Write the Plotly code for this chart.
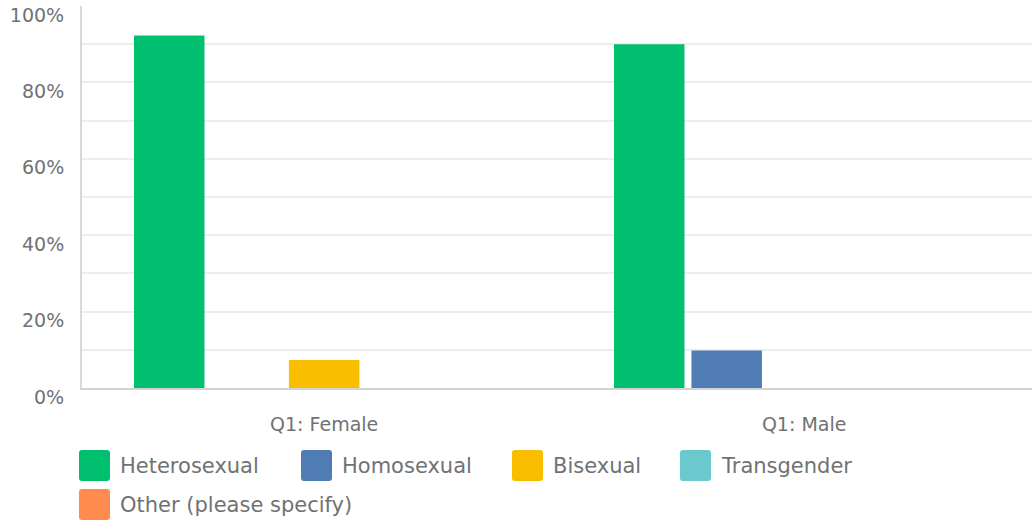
import plotly.graph_objects as go

categories = ["Q1: Female", "Q1: Male"]
series_names = ["Heterosexual", "Homosexual", "Bisexual", "Transgender", "Other (please specify)"]
series_values = {
    "Heterosexual": [92.3, 90.0],
    "Homosexual": [0.0, 9.8],
    "Bisexual": [7.3, 0.0],
    "Transgender": [0.0, 0.0],
    "Other (please specify)": [0.0, 0.0],
}
colors = ["#00bf6f", "#507cb6", "#f9be00", "#6bc8cd", "#ff8b4f"]
y_tick_vals = [0, 20, 40, 60, 80, 100]
y_tick_text = ["0%", "20%", "40%", "60%", "80%", "100%"]
y_grid_vals = [10, 20, 30, 40, 50, 60, 70, 80, 90]

W, H = 1032, 520
ML, MR, MT, MB = 82, 0, 6, 132
PW = W - ML - MR
PH = H - MT - MB

FONT = "DejaVu Sans"
TXT = "#6f7275"

fig = go.Figure()
for name, col in zip(series_names, colors):
    fig.add_trace(go.Bar(
        name=name, x=categories, y=series_values[name],
        marker=dict(color=col, line=dict(width=0)),
        showlegend=False,
    ))

def px_x(p):
    return (p - ML) / PW

def px_y(p):
    return (H - MB - p) / PH

def rounded_rect(x0, y0, size, r):
    # pixel coords -> paper coords path with rounded corners
    x1, y1 = x0 + size, y0 + size
    pts = [
        ("M", (x0 + r, y0)), ("L", (x1 - r, y0)), ("Q", (x1, y0), (x1, y0 + r)),
        ("L", (x1, y1 - r)), ("Q", (x1, y1), (x1 - r, y1)), ("L", (x0 + r, y1)),
        ("Q", (x0, y1), (x0, y1 - r)), ("L", (x0, y0 + r)), ("Q", (x0, y0), (x0 + r, y0)),
    ]
    s = ""
    for item in pts:
        cmd = item[0]
        coords = " ".join(f"{px_x(p[0]):.5f},{px_y(p[1]):.5f}" for p in item[1:])
        s += f"{cmd} {coords} "
    return s + "Z"

# custom legend (large square swatches as in reference)
legend_layout = [(79, 450), (301, 450), (512, 450), (680, 450), (79, 489)]
shapes = []
annotations = []
for name, col, (sx, sy) in zip(series_names, colors, legend_layout):
    shapes.append(dict(type="path", xref="paper", yref="paper",
                       path=rounded_rect(sx, sy, 31, 3),
                       fillcolor=col, line=dict(width=0), layer="above"))
    annotations.append(dict(text=name, xref="paper", yref="paper",
                            x=px_x(sx + 39), y=px_y(sy + 16), xanchor="left", yanchor="middle",
                            showarrow=False, font=dict(family=FONT, size=21, color=TXT)))

x0 = -0.5045
fig.update_layout(
    width=W, height=H,
    margin=dict(l=ML, r=MR, t=MT, b=MB, pad=0),
    paper_bgcolor="white", plot_bgcolor="white",
    barmode="group", bargap=0.193, bargroupgap=0.09,
    shapes=shapes, annotations=annotations,
    showlegend=False,
    xaxis=dict(
        type="category", range=[x0, x0 + PW / 480.0],
        showline=True, linecolor="#d3d3d3", linewidth=2,
        showgrid=False, zeroline=False, ticks="",
        tickfont=dict(family=FONT, size=19, color=TXT),
        ticklabelstandoff=18,
    ),
    yaxis=dict(
        range=[0, 100],
        tickvals=y_tick_vals, ticktext=y_tick_text,
        showline=True, linecolor="#d9d9d9", linewidth=2,
        showgrid=False, zeroline=False, ticks="",
        tickfont=dict(family=FONT, size=19, color=TXT),
        ticklabelshift=9, ticklabelstandoff=12, ticklabeloverflow="allow",
        minor=dict(tickvals=y_grid_vals, showgrid=True, gridcolor="#ededed", gridwidth=1.5, ticks=""),
    ),
)

fig.write_html("out.html", config={"displayModeBar": False},
               post_script="document.body.style.margin='0';")
